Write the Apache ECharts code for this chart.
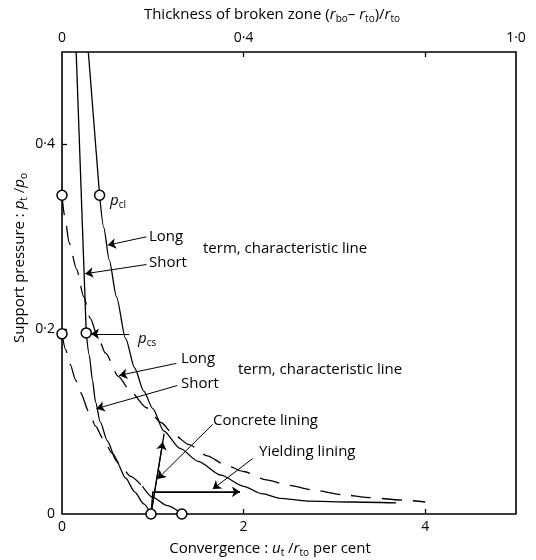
<!DOCTYPE html>
<html>
<head>
<meta charset="utf-8">
<script src="https://cdn.jsdelivr.net/npm/echarts@6/dist/echarts.min.js"></script>
<style>
html,body{margin:0;padding:0;background:#fff;}
#chart{width:536px;height:560px;}
</style>
</head>
<body>
<div id="chart"></div>
<script>
var FONT = '"Open Sans", sans-serif';

// characteristic lines : [convergence u_t/r_to %, support pressure p_t/p_o]
var shortElastic = [[0.156, 0.5], [0.267, 0.196]];
var shortTerm = [[0.267, 0.196], [0.30, 0.172], [0.335, 0.145], [0.37, 0.121], [0.42, 0.100], [0.50, 0.079],
	[0.60, 0.057], [0.70, 0.039], [0.80, 0.024], [0.90, 0.011], [0.98, 0]];
var longElastic = [[0.29, 0.5], [0.414, 0.345]];
var longTerm = [[0.414, 0.345], [0.46, 0.31], [0.52, 0.275], [0.60, 0.235], [0.70, 0.19], [0.80, 0.158],
	[0.90, 0.133], [1.00, 0.114], [1.12, 0.090], [1.30, 0.071], [1.50, 0.057], [1.75, 0.042], [2.0, 0.030],
	[2.2, 0.022], [2.4, 0.017], [2.7, 0.014], [3.2, 0.013], [3.68, 0.012]];
var shortDashed = [[0, 0.195], [0.04, 0.178], [0.09, 0.162], [0.15, 0.145], [0.20, 0.132], [0.30, 0.110],
	[0.37, 0.095], [0.45, 0.082], [0.55, 0.066], [0.65, 0.052], [0.75, 0.041], [0.886, 0.030]];
var shortDashedTail = [[0.886, 0.030], [1.0, 0.018], [1.16, 0.009], [1.32, 0]];
var longDashed = [[0, 0.345], [0.03, 0.322], [0.08, 0.293], [0.16, 0.265], [0.24, 0.235], [0.31, 0.212],
	[0.39, 0.193], [0.48, 0.174], [0.62, 0.149], [0.76, 0.132], [0.93, 0.115], [1.09, 0.099], [1.23, 0.086],
	[1.4, 0.075], [1.6, 0.063], [1.8, 0.053], [2.0, 0.046], [2.25, 0.037], [2.5, 0.031], [2.76, 0.026],
	[3.09, 0.021], [3.34, 0.018], [3.76, 0.015], [4.0, 0.013]];
var concreteLining = [[0.98, 0], [1.125, 0.087]];
var yieldingLining = [[0.98, 0], [1.0, 0.024], [1.96, 0.024]];
var openPoints = [[0, 0.345], [0, 0.195], [0.414, 0.345], [0.267, 0.196], [0.98, 0], [1.32, 0]];

// arrows: [from, to]
var liningArrows = [[[0.98, 0], [1.11, 0.078]], [[1.0, 0.024], [1.96, 0.024]]];
var leaders = [
	[[0.74, 0.195], [0.32, 0.195]],
	[[0.93, 0.300], [0.505, 0.291]],
	[[0.93, 0.270], [0.255, 0.260]],
	[[1.26, 0.163], [0.63, 0.150]],
	[[1.27, 0.139], [0.38, 0.114]],
	[[1.66, 0.097], [1.052, 0.038]],
	[[2.10, 0.060], [1.66, 0.027]]
];

var bottomLabels = [0, 2, 4];
var bottomTickVals = [2, 4];
var topLabels = [0, 0.4, 1.0];
var topTickVals = [0.4, 0.8];
var leftLabels = [0, 0.2, 0.4];
var leftTickVals = [0.2, 0.4];

var dotFmt = function(v){
	return v === 0 ? '0' : v.toFixed(1).replace('.', '\u00b7');
};

var rich = {
	i: {fontFamily: FONT, fontSize: 15, fontStyle: 'italic', fill: '#000'},
	s: {fontFamily: FONT, fontSize: 10, padding: [9, 0, 0, 0], fill: '#000'}
};

var curve = function(data, dashed, smooth){
	return {
		type: 'line', data: data, symbol: 'none', silent: true,
		smooth: smooth ? 0.25 : false, smoothMonotone: 'x',
		lineStyle: {color: '#000', width: 1.3, type: dashed ? [20, 11] : 'solid'},
		z: 2
	};
};

var arrows = function(list, width){
	return {
		type: 'line', data: [], silent: true,
		markLine: {
			silent: true, animation: false,
			symbol: ['none', 'arrow'], symbolSize: 8,
			lineStyle: {color: '#000', width: width, type: 'solid'},
			label: {show: false},
			emphasis: {disabled: true},
			data: list.map(function(l){ return [{coord: l[0]}, {coord: l[1]}]; })
		}
	};
};

var text = function(str, x, y, opt){
	opt = opt || {};
	return {
		type: 'text', x: x, y: y, rotation: opt.rotation || 0, silent: true,
		style: {
			text: str, fill: '#000', font: (opt.size || 15) + 'px ' + FONT,
			align: opt.align || 'left', verticalAlign: 'middle',
			textAlign: opt.align || 'left', textVerticalAlign: 'middle',
			rich: rich
		}
	};
};

var tickStyle = {color: '#000', width: 1.3};

var myChart = echarts.init(document.getElementById('chart'));
var option = {
	animation: false,
	backgroundColor: '#fff',
	grid: {left: 62, right: 20, top: 52, bottom: 46, show: true, borderColor: '#000', borderWidth: 1.6},
	xAxis: [
		{
			type: 'value', min: 0, max: 5, position: 'bottom',
			axisLine: {show: false}, splitLine: {show: false},
			axisTick: {show: true, inside: true, length: 5, customValues: bottomTickVals, lineStyle: tickStyle},
			axisLabel: {customValues: bottomLabels, margin: 6, color: '#000', fontFamily: FONT, fontSize: 14}
		},
		{
			type: 'value', min: 0, max: 1, position: 'top',
			axisLine: {show: false}, splitLine: {show: false},
			axisTick: {show: true, inside: true, length: 5, customValues: topTickVals, lineStyle: tickStyle},
			axisLabel: {customValues: topLabels, formatter: dotFmt, margin: 7, color: '#000', fontFamily: FONT, fontSize: 14}
		}
	],
	yAxis: {
		type: 'value', min: 0, max: 0.5,
		axisLine: {show: false}, splitLine: {show: false},
		axisTick: {show: true, inside: true, length: 5, customValues: leftTickVals, lineStyle: tickStyle},
		axisLabel: {customValues: leftLabels, formatter: dotFmt, margin: 7, color: '#000', fontFamily: FONT, fontSize: 14}
	},
	series: [
		curve(shortElastic, false, false),
		curve(shortTerm, false, true),
		curve(longElastic, false, false),
		curve(longTerm, false, true),
		curve(shortDashed, true, true),
		curve(shortDashedTail, false, true),
		curve(longDashed, true, true),
		curve(concreteLining, false, false),
		curve(yieldingLining, false, false),
		arrows(liningArrows, 1.2),
		arrows(leaders, 1),
		{
			type: 'scatter', data: openPoints, symbol: 'circle', symbolSize: 10, clip: false, silent: true, z: 5,
			itemStyle: {color: '#fff', borderColor: '#000', borderWidth: 1.5, opacity: 1}
		}
	],
	graphic: [
		text('Thickness of broken zone ({i|r}{s|bo}\u2013 {i|r}{s|to})/{i|r}{s|to}', 272, 15, {align: 'center'}),
		text('Convergence : {i|u}{s|t} /{i|r}{s|to} per cent', 270, 549, {align: 'center'}),
		text('Support pressure : {i|p}{s|t} /{i|p}{s|o}', 20, 258, {align: 'center', rotation: Math.PI / 2}),
		text('{i|p}{s|cl}', 110, 201),
		text('{i|p}{s|cs}', 138, 339),
		text('Long', 149, 237),
		text('term, characteristic line', 203, 249),
		text('Short', 149, 263),
		text('Long', 181, 359),
		text('term, characteristic line', 238, 370),
		text('Short', 181, 384),
		text('Concrete lining', 213, 421),
		text('Yielding lining', 259, 452)
	]
};
myChart.setOption(option);
</script>
</body>
</html>
